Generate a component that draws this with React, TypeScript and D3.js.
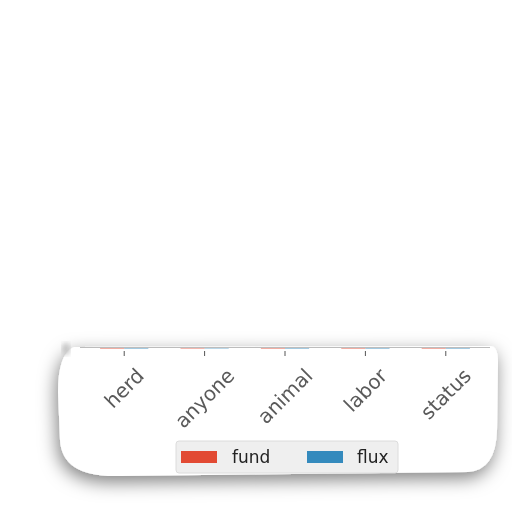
import React, { useEffect, useRef } from "react";
import * as d3 from "d3";

const categories = ["herd", "anyone", "animal", "labor", "status"];
const seriesNames = ["fund", "flux"];
const fundValues = [0.55, 0.35, 0.7, 0.45, 0.6];
const fluxValues = [0.65, 0.3, 0.5, 0.6, 0.4];
const seriesColors = ["#E24A33", "#348ABD"];

const width = 512;
const height = 512;
const plotLeft = 80;
const plotRight = 490;
const plotTop = 346.5;
const plotBottom = 349;

const App = () => {
  const ref = useRef<SVGSVGElement>(null);

  useEffect(() => {
    if (!ref.current) return;
    const svg = d3.select(ref.current);
    svg.selectAll("*").remove();

    // Shadow under the warped card
    const defs = svg.append("defs");
    const filter = defs
      .append("filter")
      .attr("id", "cardShadow")
      .attr("x", "-20%")
      .attr("y", "-30%")
      .attr("width", "140%")
      .attr("height", "170%");
    filter
      .append("feDropShadow")
      .attr("dx", -2)
      .attr("dy", 6)
      .attr("stdDeviation", 9)
      .attr("flood-color", "#000")
      .attr("flood-opacity", 0.5);

    const card = d3.path();
    card.moveTo(74, 347);
    card.lineTo(490, 346);
    card.quadraticCurveTo(498, 346, 498, 362);
    card.lineTo(497, 430);
    card.quadraticCurveTo(496, 470, 468, 472);
    card.lineTo(120, 476);
    card.quadraticCurveTo(62, 478, 60, 440);
    card.lineTo(58, 392);
    card.quadraticCurveTo(58, 354, 74, 347);
    card.closePath();
    svg
      .append("path")
      .attr("d", card.toString())
      .attr("fill", "#fff")
      .attr("filter", "url(#cardShadow)");

    // small smudge top-left
    defs
      .append("filter")
      .attr("id", "smudge")
      .append("feGaussianBlur")
      .attr("stdDeviation", 2.5);
    svg
      .append("ellipse")
      .attr("cx", 66)
      .attr("cy", 349)
      .attr("rx", 4)
      .attr("ry", 6)
      .attr("fill", "#c4c4c4")
      .attr("filter", "url(#smudge)");

    const x = d3
      .scaleBand()
      .domain(categories)
      .range([plotLeft, plotRight])
      .paddingInner(0)
      .paddingOuter(0.05);

    const xInner = d3
      .scaleBand()
      .domain(seriesNames)
      .range([0, x.bandwidth() * 0.6]);

    const y = d3
      .scaleLinear()
      .domain([0, 1])
      .range([plotBottom, plotTop]);

    const rows = categories.map((c, i) => ({
      category: c,
      values: [fundValues[i], fluxValues[i]],
    }));

    const groups = svg
      .append("g")
      .selectAll("g")
      .data(rows)
      .enter()
      .append("g")
      .attr(
        "transform",
        (d) => `translate(${(x(d.category) ?? 0) + x.bandwidth() * 0.2},0)`
      );

    groups
      .selectAll("rect")
      .data((d) => d.values.map((v, j) => ({ name: seriesNames[j], v, j })))
      .enter()
      .append("rect")
      .attr("x", (d) => xInner(d.name) ?? 0)
      .attr("width", xInner.bandwidth())
      .attr("y", (d) => y(d.v))
      .attr("height", (d) => y(0) - y(d.v))
      .attr("fill", (d) => seriesColors[d.j])
      .attr("opacity", 0.45);

    // axes frame
    svg
      .append("line")
      .attr("x1", plotLeft)
      .attr("x2", plotRight)
      .attr("y1", 347.5)
      .attr("y2", 347.5)
      .attr("stroke", "#bcbcbc")
      .attr("stroke-width", 1);

    const axis = svg
      .append("g")
      .attr("transform", `translate(0,${plotBottom + 1})`)
      .call(d3.axisBottom(x).tickSize(5).tickPadding(0));
    axis.select(".domain").remove();
    axis.selectAll(".tick line").attr("stroke", "#555").attr("y1", 1).attr("y2", 6);

    const fs = 20;
    axis
      .selectAll<SVGTextElement, string>(".tick text")
      .attr("fill", "#5a5a5a")
      .attr("font-family", "DejaVu Sans")
      .attr("font-size", fs)
      .attr("text-anchor", "middle")
      .attr("dominant-baseline", "central")
      .attr("dy", null)
      .attr("y", null)
      .each(function () {
        const len = this.getComputedTextLength();
        const cy = 365 - (plotBottom + 1) + (len + fs) / (2 * Math.SQRT2);
        d3.select(this).attr("transform", `translate(0,${cy}) rotate(-45)`);
      });

    // legend
    const legend = svg.append("g").attr("transform", "translate(176,441)");
    legend
      .append("rect")
      .attr("width", 222)
      .attr("height", 32)
      .attr("rx", 3)
      .attr("fill", "#efefef")
      .attr("stroke", "#dcdcdc");
    const items = [
      { name: seriesNames[0], color: seriesColors[0], px: 5, tx: 56 },
      { name: seriesNames[1], color: seriesColors[1], px: 131, tx: 181 },
    ];
    items.forEach((it) => {
      legend
        .append("rect")
        .attr("x", it.px)
        .attr("y", 10)
        .attr("width", 36)
        .attr("height", 12)
        .attr("fill", it.color);
      legend
        .append("text")
        .attr("x", it.tx)
        .attr("y", 22)
        .attr("font-family", "DejaVu Sans")
        .attr("font-size", 17)
        .attr("fill", "#222")
        .text(it.name);
    });
  }, []);

  return (
    <div style={{ position: "fixed", left: 0, top: 0 }}>
      <svg ref={ref} width={width} height={height} />
    </div>
  );
};

export default App;
